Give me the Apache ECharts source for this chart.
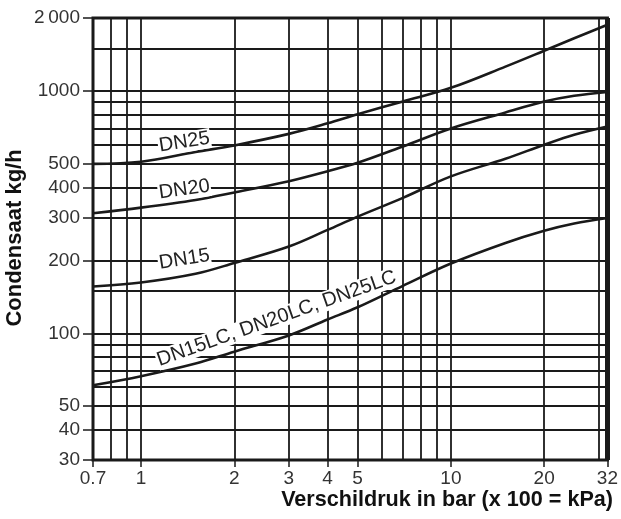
<!DOCTYPE html>
<html><head><meta charset="utf-8">
<script src="https://cdn.jsdelivr.net/npm/echarts@6/dist/echarts.min.js"></script>
<style>html,body{margin:0;padding:0;background:#fff}#c{width:621px;height:519px}</style>
</head><body><div id="c"></div>
<script>
// Differential pressure (bar) sample points
const pressure = [0.7, 1, 1.5, 2, 3, 4, 5, 7, 10, 15, 20, 25, 32];
// Condensate capacity kg/h
const dn25 = [500, 510, 560, 596, 665, 735, 801, 905, 1030, 1260, 1465, 1650, 1875];
const dn20 = [313, 330, 355, 381, 424, 466, 505, 590, 700, 815, 904, 955, 990];
const dn15 = [156, 162, 176, 195, 228, 267, 303, 362, 444, 525, 600, 660, 714];
const dnLC = [61, 66.5, 75, 84, 98, 114, 128, 157, 194, 236, 265, 284, 299];
const seriesNames = ['DN25', 'DN20', 'DN15', 'DN15LC, DN20LC, DN25LC'];

// Tick labels and grid lines
const xTicks = [0.7, 1, 2, 3, 4, 5, 10, 20, 32];
const yTicks = [30, 40, 50, 100, 200, 300, 400, 500, 1000, 2000];
const xGrid = [0.8, 0.9, 1, 2, 3, 4, 5, 6, 7, 8, 9, 10, 20, 30];
const yGrid = [40, 50, 60, 70, 80, 90, 100, 150, 200, 300, 400, 500, 600, 700, 800, 900, 1000, 1500];

const xTitle = 'Verschildruk in bar (x 100 = kPa)';
const yTitle = 'Condensaat kg/h';

const FONT = '"Liberation Sans", Arial, Helvetica, sans-serif';
const INK = '#1a1a1a';

const chart = echarts.init(document.getElementById('c'), null, {renderer: 'canvas'});

function pairs(ys) { return pressure.map((x, i) => [x, ys[i]]); }
function curve(name, ys) {
  return {
    name: name, type: 'line', data: pairs(ys), smooth: 0.35, showSymbol: false,
    lineStyle: {color: INK, width: 2.6}, z: 5, animation: false, silent: true
  };
}
function fmt(v) {
  const r = +(+v).toPrecision(3);
  if (r === 2000) return '2\u2009000';
  return String(r);
}

const option = {
  backgroundColor: '#fff',
  animation: false,
  grid: {left: 93, right: 6, top: 18, bottom: 59, show: true, borderColor: INK, borderWidth: 3, backgroundColor: 'transparent'},
  xAxis: {
    type: 'log', logBase: 10, min: 0.7, max: 32,
    axisLine: {show: false},
    splitLine: {show: false},
    minorTick: {show: false},
    axisTick: {show: true, inside: false, length: 7, customValues: xTicks, lineStyle: {color: INK, width: 1.5}},
    axisLabel: {customValues: xTicks, formatter: fmt, fontFamily: FONT, fontSize: 19, color: '#333', margin: 9}
  },
  yAxis: {
    type: 'log', logBase: 10, min: 30, max: 2000,
    axisLine: {show: false},
    splitLine: {show: false},
    minorTick: {show: false},
    axisTick: {show: true, inside: false, length: 10, customValues: yTicks, lineStyle: {color: INK, width: 1.5}},
    axisLabel: {customValues: yTicks, formatter: fmt, fontFamily: FONT, fontSize: 19, color: '#333', margin: 13}
  },
  series: [
    {
      name: 'grid', type: 'line', data: [], z: 1, silent: true, animation: false,
      markLine: {
        silent: true, animation: false, symbol: ['none', 'none'],
        label: {show: false},
        lineStyle: {color: INK, width: 1.8, type: 'solid'},
        data: xGrid.map(v => ({xAxis: v})).concat(yGrid.map(v => ({yAxis: v})))
          .concat([{xAxis: 32, lineStyle: {width: 5, color: INK}}])
      }
    },
    curve(seriesNames[0], dn25),
    curve(seriesNames[1], dn20),
    curve(seriesNames[2], dn15),
    curve(seriesNames[3], dnLC)
  ]
};
chart.setOption(option);

// Curve labels anchored in data coordinates
const labelSpecs = [
  {text: seriesNames[0], at: [1.38, 615], rot: 9},
  {text: seriesNames[1], at: [1.38, 392], rot: 8},
  {text: seriesNames[2], at: [1.38, 202], rot: 9},
  {text: seriesNames[3], at: [2.74, 115], rot: 19.5}
];
const graphics = labelSpecs.map(s => {
  const p = chart.convertToPixel({xAxisIndex: 0, yAxisIndex: 0}, s.at);
  return {
    type: 'text', x: p[0], y: p[1], rotation: s.rot * Math.PI / 180, z: 10,
    style: {text: s.text, font: '20px ' + FONT, fill: '#222', align: 'center', verticalAlign: 'middle',
      backgroundColor: '#fff', padding: [0, 1]}
  };
});
graphics.push({
  type: 'text', x: 613, y: 500, z: 10,
  style: {text: xTitle, font: 'bold 21.6px ' + FONT, fill: '#111', align: 'right', verticalAlign: 'middle'}
});
graphics.push({
  type: 'text', x: 15, y: 238, rotation: Math.PI / 2, z: 10,
  style: {text: yTitle, font: 'bold 22px ' + FONT, fill: '#111', align: 'center', verticalAlign: 'middle'}
});
chart.setOption({graphic: graphics});
</script>
</body></html>
